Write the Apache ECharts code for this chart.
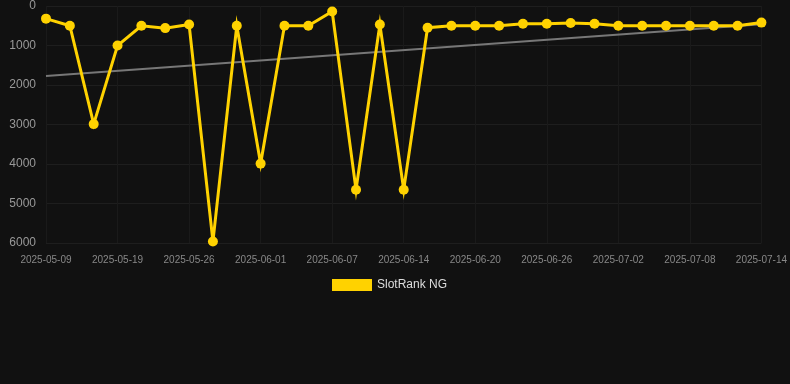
<!DOCTYPE html>
<html>
<head>
<meta charset="utf-8">
<script src="https://cdn.jsdelivr.net/npm/echarts@6/dist/echarts.min.js"></script>
<style>
  html, body { margin: 0; padding: 0; background: #111111; }
  #chart { width: 790px; height: 384px; }
</style>
</head>
<body>
<div id="chart"></div>
<script>
var dates = ['2025-05-09', '2025-05-12', '2025-05-15', '2025-05-19', '2025-05-21', '2025-05-23',
    '2025-05-26', '2025-05-28', '2025-05-30', '2025-06-01', '2025-06-03', '2025-06-05',
    '2025-06-07', '2025-06-09', '2025-06-12', '2025-06-14', '2025-06-16', '2025-06-18',
    '2025-06-20', '2025-06-22', '2025-06-24', '2025-06-26', '2025-06-28', '2025-06-30',
    '2025-07-02', '2025-07-04', '2025-07-06', '2025-07-08', '2025-07-10', '2025-07-12',
    '2025-07-14'];
var rankData = [320, 500, 2990, 1000, 500, 560, 470, 5960, 500, 3990, 500, 500, 140, 4650, 470, 4650,
    550, 500, 500, 500, 450, 450, 430, 450, 500, 500, 500, 500, 500, 500, 420];
// trend line: only the two ends, joined across the gaps
var trendData = [1770, null, null, null, null, null, null, null, null, null, null, null, null, null, null, null,
    null, null, null, null, null, null, null, null, null, null, null, null, null, null, 460];
var yTicks = [0, 1000, 2000, 3000, 4000, 5000, 6000];

var chart = echarts.init(document.getElementById('chart'));
var option = {
    backgroundColor: '#111111',
    animation: false,
    grid: { left: 46, right: 28, top: 6, bottom: 141 },
    legend: {
        bottom: 88,
        left: 327,
        data: [{ name: 'SlotRank NG', icon: 'rect' }],
        itemWidth: 40,
        itemHeight: 12,
        itemGap: 6,
        textStyle: { color: '#dddddd', fontSize: 12, fontFamily: 'Liberation Sans' }
    },
    xAxis: {
        type: 'category',
        boundaryGap: false,
        data: dates,
        axisLine: { show: false },
        axisTick: { show: false },
        axisLabel: { color: '#888888', fontSize: 10, fontFamily: 'Liberation Sans', interval: 2, margin: 12 },
        splitLine: { show: true, interval: 2, lineStyle: { color: '#1a1a1a' } }
    },
    yAxis: {
        type: 'value',
        inverse: true,
        min: yTicks[0],
        max: yTicks[yTicks.length - 1],
        interval: 1000,
        axisLine: { show: false },
        axisTick: { show: false },
        axisLabel: {
            color: '#999999', fontSize: 12, fontFamily: 'Liberation Sans', margin: 10,
            formatter: function (v) { return String(v); }
        },
        splitLine: { lineStyle: { color: '#1e1e1e' } }
    },
    series: [
        {
            name: 'Trend',
            type: 'line',
            data: trendData,
            connectNulls: true,
            symbol: 'none',
            z: 1,
            lineStyle: { color: '#777777', width: 2 }
        },
        {
            name: 'SlotRank NG',
            type: 'line',
            data: rankData,
            symbol: 'circle',
            symbolSize: 10,
            z: 3,
            itemStyle: { color: '#ffd200' },
            lineStyle: { color: '#ffd200', width: 3, join: 'miter', miterLimit: 20 }
        }
    ]
};
chart.setOption(option);
</script>
</body>
</html>
